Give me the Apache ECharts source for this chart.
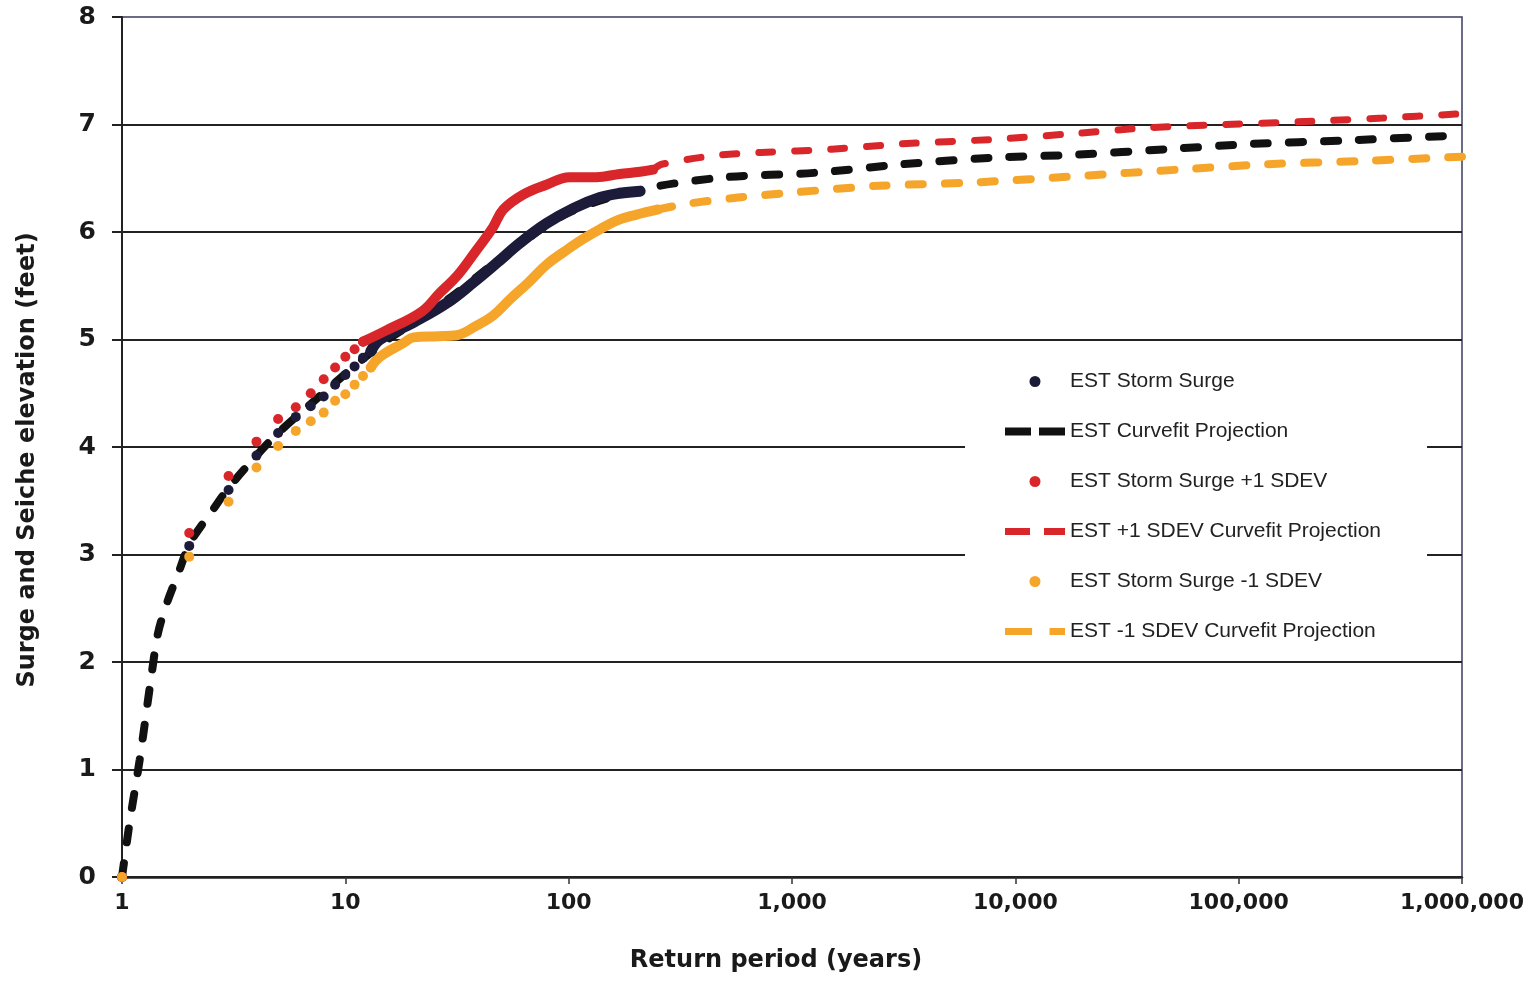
<!DOCTYPE html>
<html>
<head>
<meta charset="utf-8">
<script src="https://cdn.jsdelivr.net/npm/echarts@6/dist/echarts.min.js"></script>
<style>
html,body{margin:0;padding:0;background:#fff;}
#chart{width:1528px;height:982px;}
</style>
</head>
<body>
<div id="chart"></div>
<script>
// ---- Data ----
// Storm surge points (sparse, individually visible dots)
const surgeDotT   = [1, 2, 3, 4, 5, 6, 7, 8, 9, 10, 11, 12, 13];
const surgeDotV   = [0, 3.08, 3.60, 3.92, 4.13, 4.28, 4.38, 4.47, 4.58, 4.67, 4.75, 4.83, 4.89];
// Storm surge points (dense part, dots merge into a band)
const surgeBandT  = [13, 14.3, 20.2, 28.5, 37.4, 47.5, 60.7, 79.6, 105, 138, 169, 209];
const surgeBandV  = [4.89, 5.00, 5.16, 5.34, 5.53, 5.71, 5.90, 6.08, 6.22, 6.32, 6.36, 6.38];

const plusDotT    = [1, 2, 3, 4, 5, 6, 7, 8, 9, 10, 11, 12];
const plusDotV    = [0, 3.20, 3.73, 4.05, 4.26, 4.37, 4.50, 4.63, 4.74, 4.84, 4.91, 4.98];
const plusBandT   = [12, 15.1, 22, 26.4, 31.6, 38, 45.7, 51, 62.8, 79.5, 101, 133, 169, 209, 239];
const plusBandV   = [4.98, 5.08, 5.26, 5.43, 5.59, 5.81, 6.04, 6.21, 6.35, 6.44, 6.51, 6.51, 6.54, 6.56, 6.58];

const minusDotT   = [1, 2, 3, 4, 5, 6, 7, 8, 9, 10, 11, 12, 13];
const minusDotV   = [0, 2.98, 3.49, 3.81, 4.01, 4.15, 4.24, 4.32, 4.43, 4.49, 4.58, 4.66, 4.74];
const minusBandT  = [13, 14.3, 18.3, 20.2, 26, 31.6, 38, 45.7, 55, 66, 80, 96, 115, 139, 166, 200, 252];
const minusBandV  = [4.74, 4.84, 4.97, 5.02, 5.03, 5.04, 5.12, 5.22, 5.38, 5.53, 5.70, 5.82, 5.93, 6.03, 6.11, 6.16, 6.21];

// Curve-fit projections
const fitT        = [1, 1.086, 1.2, 1.36, 1.45, 1.59, 1.79, 2.02, 2.56, 3, 4, 5, 7, 10, 15, 20, 30, 50, 100, 217, 507, 1256, 3113, 7710, 19100, 47300, 117000, 291000, 1000000];
const fitV        = [0, 0.53, 1.09, 1.90, 2.27, 2.55, 2.83, 3.11, 3.42, 3.62, 3.92, 4.13, 4.40, 4.68, 4.98, 5.15, 5.40, 5.76, 6.18, 6.40, 6.51, 6.55, 6.63, 6.69, 6.72, 6.77, 6.82, 6.85, 6.90];
const fitPlusT    = [239, 261, 448, 728, 1508, 3113, 7710, 16900, 39500, 87100, 214000, 443000, 1000000];
const fitPlusV    = [6.58, 6.63, 6.71, 6.74, 6.77, 6.82, 6.86, 6.91, 6.97, 7.00, 7.03, 7.06, 7.10];
const fitMinusT   = [252, 332, 573, 1047, 2443, 6440, 19100, 53600, 133000, 350000, 1000000];
const fitMinusV   = [6.21, 6.26, 6.32, 6.37, 6.43, 6.46, 6.52, 6.58, 6.63, 6.66, 6.70];

// Axis ticks
const yTicks = [0, 1, 2, 3, 4, 5, 6, 7, 8];
const xMin = 1, xMax = 1000000;

const names = [
  'EST Storm Surge',
  'EST Curvefit Projection',
  'EST Storm Surge +1 SDEV',
  'EST +1 SDEV Curvefit Projection',
  'EST Storm Surge -1 SDEV',
  'EST -1 SDEV Curvefit Projection'
];

const pair = (xs, ys) => xs.map((x, i) => [x, ys[i]]);

const C_BLACK = '#1c1c3a';
const C_DASH  = '#111111';
const C_RED   = '#d8262a';
const C_ORG   = '#f5a52a';

const FONT = '"Liberation Sans", Arial, sans-serif';
const AXFONT = '"DejaVu Sans", "Liberation Sans", Arial, sans-serif';
const DASH_ICON_K = 'path://M0,0H26V8H0Z M34,0H60V8H34Z';
const DASH_ICON_R = 'path://M0,0H25V7H0Z M39,0H60V7H39Z';
const DASH_ICON_O = 'path://M0,0H28V7H0Z M46,0H62V7H46Z';

const chart = echarts.init(document.getElementById('chart'), null, {renderer: 'canvas'});
const option = {
  backgroundColor: '#ffffff',
  animation: false,
  grid: {
    left: 122, right: 66, top: 17, bottom: 105,
    show: true, borderColor: '#3b3b5e', borderWidth: 1.5, backgroundColor: 'transparent'
  },
  legend: {
    orient: 'vertical',
    left: 965, top: 357,
    padding: [14, 46, 14, 40],
    backgroundColor: '#ffffff',
    itemWidth: 60, itemHeight: 11, itemGap: 29,
    data: [
      {name: names[0], icon: 'circle'},
      {name: names[1], icon: DASH_ICON_K},
      {name: names[2], icon: 'circle'},
      {name: names[3], icon: DASH_ICON_R},
      {name: names[4], icon: 'circle'},
      {name: names[5], icon: DASH_ICON_O}
    ],
    textStyle: {fontFamily: FONT, fontSize: 21, color: '#222', lineHeight: 20},
    z: 10
  },
  xAxis: {
    type: 'log', logBase: 10, min: xMin, max: xMax,
    name: 'Return period (years)', nameLocation: 'middle', nameGap: 72,
    nameTextStyle: {fontFamily: AXFONT, fontSize: 24, fontWeight: 'bold', color: '#1a1a1a', padding: [0, 32, 0, 0]},
    axisLine: {show: true, lineStyle: {color: '#222', width: 2.5}},
    axisTick: {show: true, length: 7, lineStyle: {color: '#333', width: 1.5}},
    minorTick: {show: false},
    splitLine: {show: false},
    axisLabel: {
      margin: 15, fontFamily: AXFONT, fontSize: 22, fontWeight: 'bold', color: '#1a1a1a',
      formatter: v => Math.round(v).toLocaleString('en-US')
    }
  },
  yAxis: {
    type: 'value', min: yTicks[0], max: yTicks[yTicks.length - 1], interval: 1,
    name: 'Surge and Seiche elevation (feet)', nameLocation: 'middle', nameGap: 82,
    nameTextStyle: {fontFamily: AXFONT, fontSize: 24, fontWeight: 'bold', color: '#1a1a1a', padding: [0, 26, 0, 0]},
    axisLine: {show: true, lineStyle: {color: '#222', width: 2}},
    axisTick: {show: true, length: 10, lineStyle: {color: '#222', width: 2}},
    splitLine: {show: true, lineStyle: {color: ['#222','#222','#222','#222','#222','#222','#222','#222','rgba(0,0,0,0)'], width: 2}},
    axisLabel: {margin: 26, fontFamily: AXFONT, fontSize: 25, fontWeight: 'bold', color: '#1a1a1a'}
  },
  series: [
    {
      name: names[1], type: 'line', data: pair(fitT, fitV), smooth: 0.3,
      showSymbol: false, symbol: 'none', z: 2,
      lineStyle: {color: C_DASH, width: 8, type: [14, 21], cap: 'round'},
      itemStyle: {color: C_DASH}
    },
    {
      name: names[3], type: 'line', data: pair(fitPlusT, fitPlusV), smooth: 0.3,
      showSymbol: false, symbol: 'none', z: 2,
      lineStyle: {color: C_RED, width: 7, type: [14, 22], cap: 'round'},
      itemStyle: {color: C_RED}
    },
    {
      name: names[5], type: 'line', data: pair(fitMinusT, fitMinusV), smooth: 0.3,
      showSymbol: false, symbol: 'none', z: 2,
      lineStyle: {color: C_ORG, width: 8, type: [14, 22], cap: 'round'},
      itemStyle: {color: C_ORG}
    },
    {
      name: 'minus band', type: 'line', data: pair(minusBandT, minusBandV), smooth: 0.4,
      showSymbol: false, symbol: 'none', z: 3,
      lineStyle: {color: C_ORG, width: 10, cap: 'round', join: 'round'}
    },
    {
      name: 'surge band', type: 'line', data: pair(surgeBandT, surgeBandV), smooth: 0.4,
      showSymbol: false, symbol: 'none', z: 4,
      lineStyle: {color: C_BLACK, width: 11, cap: 'round', join: 'round'}
    },
    {
      name: names[0], type: 'scatter', data: pair(surgeDotT, surgeDotV), symbolSize: 10, z: 4,
      itemStyle: {color: C_BLACK, opacity: 1}
    },
    {
      name: 'plus band', type: 'line', data: pair(plusBandT, plusBandV), smooth: 0.4,
      showSymbol: false, symbol: 'none', z: 5,
      lineStyle: {color: C_RED, width: 10, cap: 'round', join: 'round'}
    },
    {
      name: names[2], type: 'scatter', data: pair(plusDotT, plusDotV), symbolSize: 10, z: 5,
      itemStyle: {color: C_RED, opacity: 1}
    },
    {
      name: names[4], type: 'scatter', data: pair(minusDotT, minusDotV), symbolSize: 10, z: 6,
      itemStyle: {color: C_ORG, opacity: 1}
    }
  ]
};
chart.setOption(option);
</script>
</body>
</html>
